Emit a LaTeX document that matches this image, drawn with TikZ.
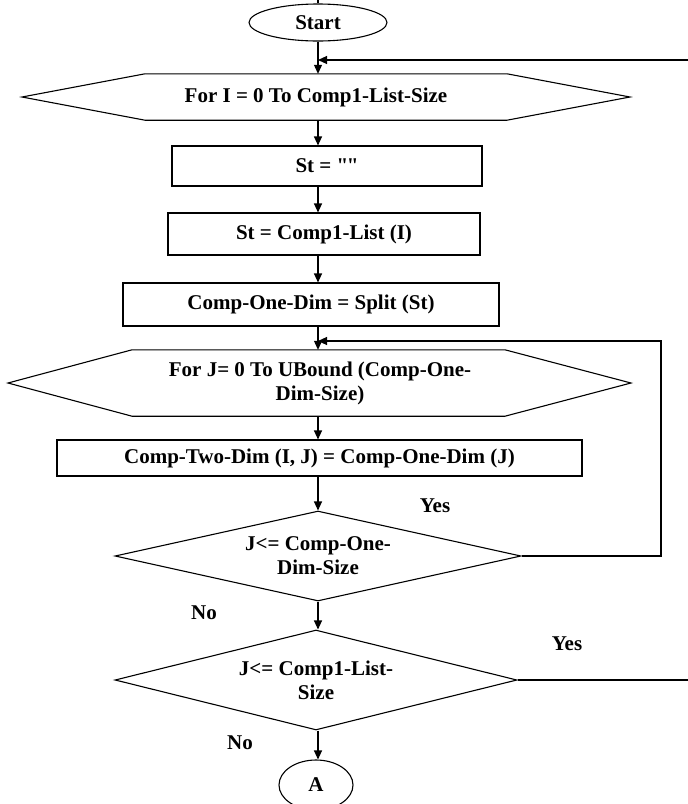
\documentclass[tikz,border=0pt]{standalone}
\usepackage{fontspec}
\setmainfont{Liberation Serif}[Ligatures=TeXOff]
\usetikzlibrary{arrows.meta,shapes.geometric}
\begin{document}
\begin{tikzpicture}[x=1pt,y=-1pt,
  every node/.style={font=\bfseries\fontsize{21}{24}\selectfont, inner sep=0pt},
  line/.style={line width=1.1pt},
  arr/.style={line, -{Triangle[length=9pt,width=8pt]}},
  procbox/.style={draw, line width=1.1pt, rectangle},
  hexbox/.style={rectangle, align=center},
  decision/.style={draw, line width=1.1pt, diamond, aspect=4.5, align=center},
  terminal/.style={draw, line width=1.1pt, ellipse},
  lbl/.style={}]
\useasboundingbox (0,0) rectangle (688,804);

% terminals, loops and processes
\node[terminal, minimum width=138, minimum height=37] (start) at (318,22.5) {Start};
\node[hexbox, minimum height=46] (h1) at (316,97) {For I = 0 To Comp1-List-Size};
\draw[line] ([xshift=-171pt]h1.north) -- ([xshift=191pt]h1.north) -- ([xshift=314pt]h1.center)
  -- ([xshift=191pt]h1.south) -- ([xshift=-171pt]h1.south) -- ([xshift=-294pt]h1.center) -- cycle;
\node[procbox, minimum width=310, minimum height=40] (b1) at (327,166) {St = "\kern-1.5pt"};
\node[procbox, minimum width=312, minimum height=42] (b2) at (324,234) {St = Comp1-List (I)};
\node[procbox, minimum width=376, minimum height=43] (b3) at (311,304.5) {Comp-One-Dim = Split (St)};
\node[hexbox, minimum height=66] (h2) at (320,383) {For J= 0 To UBound (Comp-One-\\Dim-Size)};
\draw[line] ([xshift=-188pt]h2.north) -- ([xshift=185pt]h2.north) -- ([xshift=311pt]h2.center)
  -- ([xshift=185pt]h2.south) -- ([xshift=-188pt]h2.south) -- ([xshift=-312pt]h2.center) -- cycle;
\node[procbox, minimum width=525, minimum height=36] (b4) at (319.5,458) {Comp-Two-Dim (I, J) = Comp-One-Dim (J)};
\node[decision, minimum width=406, minimum height=90] (d1) at (318,556) {J<= Comp-One-\\Dim-Size};
\node[decision, minimum width=402, minimum height=100] (d2) at (316,680) {J<= Comp1-List-\\Size};
\node[terminal, minimum width=74, minimum height=50] (conA) at (316,785) {A};

% branch labels
\node[lbl] (y1) at (435,506) {Yes};
\node[lbl] (n1) at (204,613) {No};
\node[lbl] (y2) at (567,644) {Yes};
\node[lbl] (n2) at (240,743) {No};

% loop-back points
\coordinate (topIn) at (318,0);
\coordinate (outerIn) at (688,60);
\coordinate (outerOut) at (688,680);
\coordinate (innerR) at (661,341);

% main flow
\draw[line] (topIn) -- (start.north);
\draw[arr] (start) -- (h1.north -| start);
\draw[arr] (h1.south -| start) -- (b1.north -| start);
\draw[arr] (b1.south -| start) -- (b2.north -| start);
\draw[arr] (b2.south -| start) -- (b3.north -| start);
\draw[arr] (b3.south -| start) -- (h2.north -| start);
\draw[arr] (h2.south -| start) -- (b4.north -| start);
\draw[arr] (b4.south -| start) -- (d1.north -| start);
\draw[arr] (d1.south -| start) -- (d2.north -| start);
\draw[arr] (d2.south -| start) -- (conA.north -| start);

% loops
\draw[arr] (d1.east) -| (innerR) -- (innerR -| start);
\draw[arr] (outerIn) -- (outerIn -| start);
\draw[line] (d2.east) -- (outerOut);
\end{tikzpicture}
\end{document}
